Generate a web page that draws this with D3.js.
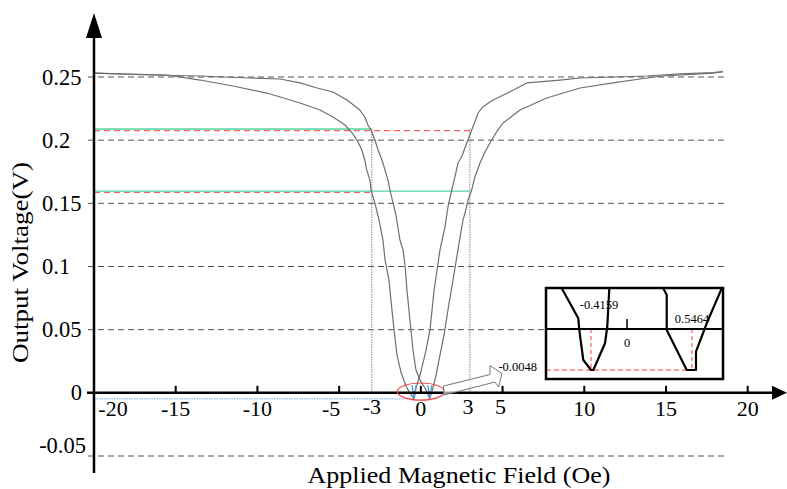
<!DOCTYPE html>
<meta charset="utf-8">
<style>
  body { margin: 0; background: #fff; }
  svg { display: block; font-family: "Liberation Serif", "Times New Roman", serif; }
</style>
<body>
<div id="chart"></div>
<script src="https://d3js.org/d3.v7.min.js"></script>
<script>

// ---- data ----
// branch A: outer-left falling edge -> minimum at -0.4159 -> inner-right rising edge
var fieldA = [-20, -15.54, -13.51, -11.50, -9.42, -7.39, -6.17, -5.38, -4.64, -4.21, -3.91, -3.61, -3.43, -3.31, -3.12, -3.05, -2.81, -2.56, -2.32, -2.19, -1.95, -1.83, -1.64, -1.46, -1.22, -0.91, -0.67, -0.4159,
  -0.30, -0.05, 0.25, 0.56, 0.81, 0.99, 1.17, 1.48, 1.66, 1.89, 2.09, 2.27, 2.50, 2.81, 3.11, 3.31, 3.50, 3.80, 4.42, 5.46, 6.48, 8.52, 9.74, 11.76, 13.84, 15.86, 17.88, 18.49];
var voltA = [0.2531, 0.2516, 0.2476, 0.2429, 0.2373, 0.2294, 0.2239, 0.2183, 0.2120, 0.2057, 0.2001, 0.1922, 0.1843, 0.1763, 0.1684, 0.1605, 0.1502, 0.1368, 0.1210, 0.1052, 0.0893, 0.0735, 0.0497, 0.0299, 0.0165, 0.0054, -0.0002, -0.0048,
  0.0038, 0.0141, 0.0299, 0.0497, 0.0814, 0.0972, 0.1131, 0.1315, 0.1473, 0.1605, 0.1711, 0.1819, 0.1869, 0.1977, 0.2080, 0.2146, 0.2215, 0.2265, 0.2318, 0.2383, 0.2453, 0.2476, 0.2492, 0.2500, 0.2508, 0.2524, 0.2534, 0.2542];

// branch B: inner-left falling edge -> minimum at 0.5464 -> outer-right rising edge
var fieldB = [-20, -16.58, -13.51, -10.46, -8.62, -7.39, -6.35, -5.38, -4.52, -3.73, -3.43, -3.24, -3.05, -2.81, -2.62, -2.38, -2.19, -2.01, -1.89, -1.70, -1.52, -1.40, -1.28, -1.09, -0.97, -0.85, -0.67, -0.48, -0.30, -0.05, 0.32, 0.5464,
  0.74, 0.93, 1.17, 1.42, 1.66, 1.97, 2.27, 2.58, 2.70, 2.89, 3.11, 3.31, 3.62, 3.93, 4.23, 4.64, 5.03, 6.07, 7.70, 9.74, 11.76, 13.84, 14.82, 17.88, 18.49];
var voltB = [0.2531, 0.2516, 0.2508, 0.2492, 0.2484, 0.2453, 0.2413, 0.2381, 0.2318, 0.2239, 0.2183, 0.2120, 0.2080, 0.2001, 0.1922, 0.1843, 0.1763, 0.1684, 0.1605, 0.1502, 0.1407, 0.1305, 0.1210, 0.1131, 0.1012, 0.0814, 0.0577, 0.0339, 0.0180, 0.0101, 0.0022, -0.0048,
  0.0038, 0.0141, 0.0299, 0.0458, 0.0656, 0.0893, 0.1131, 0.1368, 0.1423, 0.1526, 0.1605, 0.1711, 0.1819, 0.1908, 0.1977, 0.2067, 0.2136, 0.2239, 0.2334, 0.2413, 0.2453, 0.2492, 0.2508, 0.2531, 0.2542];

var minFieldA = -0.4159, minFieldB = 0.5464, minVolt = -0.0048;

var yGrid = [0.25, 0.2, 0.15, 0.1, 0.05, -0.05];
var yTickLabels = ["0.25", "0.2", "0.15", "0.1", "0.05", "0", "-0.05"];
var yTickValues = [0.25, 0.2, 0.15, 0.1, 0.05, 0, -0.05];
var xTicks = [-15, -10, -5, 0, 5, 10, 15, 20];
var xTickLabels = [-20, -15, -10, -5, -3, 0, 3, 5, 10, 15, 20];

// voltages read at +/-3 Oe
var readA = [0.2075, 0.1587];   // red dashed (branch A)
var readB = [0.2088, 0.1597];   // green (branch B)
var markField = 3;

// block arrow outline (field, voltage)
var arrowField = [1.386, 4.232, 4.232, 4.966, 4.752, 4.538, 1.417];
var arrowVolt  = [0.00538, 0.01449, 0.02161, 0.01528, 0.00459, 0.00855, -0.00174];

// inset (zoom of the minima)
var insetLeftX  = [-0.754, -0.563, -0.551, -0.505, -0.4159, -0.389, -0.254, -0.228, -0.204];
var insetLeftY  = [0.00476, 0.00125, -0.00012, -0.00363, -0.0048, -0.0048, -0.00167, 0.00027, 0.00476];
var insetRightX = [0.305, 0.334, 0.334, 0.502, 0.580, 0.580, 0.670, 0.796];
var insetRightY = [0.00476, 0.00398, -0.00012, -0.0048, -0.0048, -0.00266, 0.00067, 0.00476];

// ---- layout ----
var width = 787, height = 489;
var svg = d3.select("#chart").append("svg")
  .attr("width", width)
  .attr("height", height);

svg.append("rect").attr("width", width).attr("height", height).attr("fill", "#fff");

var x = d3.scaleLinear().domain([-20, 20]).range([94, 747.7]);
var y = d3.scaleLinear().domain([-0.05, 0.25]).range([456, 77]);
var gridEnd = 18.75;

var zip = (xs, ys) => xs.map((v, i) => [v, ys[i]]);
var line = d3.line().x(d => x(d[0])).y(d => y(d[1]));

// dashed grid
svg.append("g").selectAll("line")
  .data(yGrid)
  .join("line")
  .attr("x1", x(-20) - 6)
  .attr("x2", x(gridEnd))
  .attr("y1", d => y(d))
  .attr("y2", d => y(d))
  .attr("stroke", "#555")
  .attr("stroke-width", 1)
  .attr("stroke-dasharray", "6,4");

// read-out lines at +/-3 Oe
var reads = [
  {v: readB[0], to: -markField, color: "#4fd6a5", dash: null, w: 1.4},
  {v: readA[0], to: markField, color: "#ff3b3b", dash: "6,4", w: 1},
  {v: readA[1], to: -markField, color: "#ff3b3b", dash: "6,4", w: 1},
  {v: readB[1], to: markField, color: "#4fd6a5", dash: null, w: 1.4}
];
svg.append("g").selectAll("line")
  .data(reads)
  .join("line")
  .attr("x1", x(-20))
  .attr("x2", d => x(d.to))
  .attr("y1", d => y(d.v))
  .attr("y2", d => y(d.v))
  .attr("stroke", d => d.color)
  .attr("stroke-width", d => d.w)
  .attr("stroke-dasharray", d => d.dash);

svg.append("g").selectAll("line")
  .data([-markField, markField])
  .join("line")
  .attr("x1", d => x(d))
  .attr("x2", d => x(d))
  .attr("y1", y(readB[0]))
  .attr("y2", y(0))
  .attr("stroke", "#888")
  .attr("stroke-width", 1)
  .attr("stroke-dasharray", "1.5,1");

// blue dotted line to the minimum
svg.append("line")
  .attr("x1", x(-20)).attr("x2", x(minFieldA))
  .attr("y1", y(minVolt)).attr("y2", y(minVolt))
  .attr("stroke", "#8dbbe8")
  .attr("stroke-width", 1.2)
  .attr("stroke-dasharray", "1.5,1");

// hysteresis curves
[zip(fieldA, voltA), zip(fieldB, voltB)].forEach(function(pts) {
  svg.append("path")
    .datum(pts)
    .attr("d", line)
    .attr("fill", "none")
    .attr("stroke", "#6f6f6f")
    .attr("stroke-width", 1.2)
    .attr("stroke-linejoin", "round");
});

// blue highlight of the two minima
[minFieldA, minFieldB].forEach(function(m) {
  svg.append("path")
    .datum([[m - 0.12, 0.006], [m, minVolt], [m + 0.12, 0.006]])
    .attr("d", line)
    .attr("fill", "none")
    .attr("stroke", "#5b9bd5")
    .attr("stroke-width", 1.4);
});

// axes
var ax = svg.append("g").attr("stroke", "#000").attr("fill", "#000");
ax.append("line")
  .attr("x1", x(-20) - 7).attr("x2", 774)
  .attr("y1", y(0)).attr("y2", y(0))
  .attr("stroke-width", 2.5);
ax.append("path")
  .attr("d", "M772," + (y(0) - 7) + "L787," + y(0) + "L772," + (y(0) + 7) + "Z")
  .attr("stroke", "none");
ax.append("line")
  .attr("x1", x(-20)).attr("x2", x(-20))
  .attr("y1", y(-0.05) + 17).attr("y2", 36)
  .attr("stroke-width", 2.5);
ax.append("path")
  .attr("d", "M" + (x(-20) - 8) + ",38L" + x(-20) + ",13L" + (x(-20) + 8) + ",38Z")
  .attr("stroke", "none");

ax.selectAll(".xt")
  .data(xTicks)
  .join("line")
  .attr("class", "xt")
  .attr("x1", d => x(d)).attr("x2", d => x(d))
  .attr("y1", y(0)).attr("y2", y(0) - 7)
  .attr("stroke-width", 2);

// tick labels
svg.append("g").selectAll("text")
  .data(xTickLabels)
  .join("text")
  .attr("x", function(d) { return x(d) + (d === -20 ? 19 : d === -5 ? -8 : d === 3 || d === 5 ? -2 : 0); })
  .attr("y", d => (Math.abs(d) === 3 || d === 5) ? y(0) + 21 : y(0) + 23)
  .attr("text-anchor", "middle")
  .attr("font-size", 22)
  .text(d => d);

svg.append("g").selectAll("text")
  .data(yTickValues)
  .join("text")
  .attr("x", d => d === 0 ? 82 : d < 0 ? 86 : 42)
  .attr("y", d => d < 0 ? y(d) - 3 : y(d) + 7.5)
  .attr("text-anchor", d => d <= 0 ? "end" : "start")
  .attr("font-size", 22.5)
  .text((d, i) => yTickLabels[i]);

// axis titles
svg.append("text")
  .attr("transform", "translate(28,262.5) rotate(-90)")
  .attr("text-anchor", "middle")
  .attr("font-size", 23)
  .attr("textLength", 201)
  .attr("lengthAdjust", "spacingAndGlyphs")
  .text("Output Voltage(V)");

svg.append("text")
  .attr("x", 459)
  .attr("y", 483)
  .attr("text-anchor", "middle")
  .attr("font-size", 23)
  .attr("textLength", 303)
  .attr("lengthAdjust", "spacingAndGlyphs")
  .text("Applied Magnetic Field (Oe)");

// red ellipse around the minima
svg.append("ellipse")
  .attr("cx", x(0))
  .attr("cy", y(0.001))
  .attr("rx", x(1.44) - x(0))
  .attr("ry", y(0) - y(0.0068))
  .attr("fill", "none")
  .attr("stroke", "#f04848")
  .attr("stroke-width", 1.2);

// block arrow towards the inset
svg.append("path")
  .datum(zip(arrowField, arrowVolt))
  .attr("d", d => line(d) + "Z")
  .attr("fill", "#fff")
  .attr("fill-opacity", 0.6)
  .attr("stroke", "#777")
  .attr("stroke-width", 1);

// ---- inset ----
var box = {x0: 546, x1: 723, y0: 288, y1: 379};
var ix = d3.scaleLinear().domain([minFieldA, 0, minFieldB]).range([591, 627, 692]);
var iy = d3.scaleLinear().domain([minVolt, 0]).range([370, 329]);
var iline = d3.line().x(d => ix(d[0])).y(d => iy(d[1]));

var inset = svg.append("g");
inset.append("rect")
  .attr("x", box.x0).attr("y", box.y0)
  .attr("width", box.x1 - box.x0).attr("height", box.y1 - box.y0)
  .attr("fill", "#fff");

inset.selectAll(".vd")
  .data([minFieldA, minFieldB])
  .join("line")
  .attr("x1", d => ix(d)).attr("x2", d => ix(d))
  .attr("y1", iy(0)).attr("y2", iy(minVolt))
  .attr("stroke", "#ff3b3b")
  .attr("stroke-width", 1)
  .attr("stroke-dasharray", "4,3");
inset.append("line")
  .attr("x1", box.x0).attr("x2", ix(0.58))
  .attr("y1", iy(minVolt)).attr("y2", iy(minVolt))
  .attr("stroke", "#ff3b3b")
  .attr("stroke-width", 1)
  .attr("stroke-dasharray", "5,3");

inset.append("line")
  .attr("x1", box.x0).attr("x2", box.x1)
  .attr("y1", iy(0)).attr("y2", iy(0))
  .attr("stroke", "#000")
  .attr("stroke-width", 2);
inset.append("line")
  .attr("x1", ix(0)).attr("x2", ix(0))
  .attr("y1", iy(0)).attr("y2", iy(0) - 10)
  .attr("stroke", "#000")
  .attr("stroke-width", 1.5);

[zip(insetLeftX, insetLeftY), zip(insetRightX, insetRightY)].forEach(function(pts) {
  inset.append("path")
    .datum(pts)
    .attr("d", iline)
    .attr("fill", "none")
    .attr("stroke", "#000")
    .attr("stroke-width", 2.2)
    .attr("stroke-linejoin", "round");
});

inset.append("rect")
  .attr("x", box.x0).attr("y", box.y0)
  .attr("width", box.x1 - box.x0).attr("height", box.y1 - box.y0)
  .attr("fill", "none")
  .attr("stroke", "#000")
  .attr("stroke-width", 2.5);

inset.append("text")
  .attr("x", ix(0)).attr("y", iy(0) + 18)
  .attr("text-anchor", "middle")
  .attr("font-size", 12.5)
  .text("0");
inset.append("text")
  .attr("x", ix(minFieldA) + 8).attr("y", box.y0 + 21)
  .attr("text-anchor", "middle")
  .attr("font-size", 12.5)
  .text(minFieldA);
inset.append("text")
  .attr("x", ix(minFieldB)).attr("y", iy(0) - 6)
  .attr("text-anchor", "middle")
  .attr("font-size", 12.5)
  .text(minFieldB);
inset.append("text")
  .attr("x", box.x0 - 9).attr("y", iy(minVolt) + 1)
  .attr("text-anchor", "end")
  .attr("font-size", 12.5)
  .text(minVolt);

</script>
</body>
